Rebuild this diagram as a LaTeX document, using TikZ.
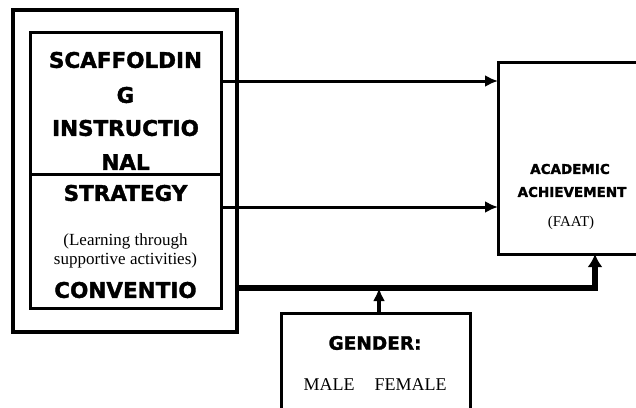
\documentclass[tikz,border=0pt]{standalone}
\usepackage{fontspec}
\setmainfont{Liberation Serif}
\newfontfamily\heavy{DejaVu Sans}[BoldFeatures={FakeBold=1.6}]
\usetikzlibrary{arrows.meta}

\tikzset{
    box/.style={draw,line width=3pt,inner sep=0pt,outer sep=0pt},
    capstxt/.style={font=\heavy\bfseries\fontsize{21.5}{21.5}\selectfont},
    smallcaps/.style={font=\heavy\bfseries\fontsize{13.5}{13.5}\selectfont},
    serif/.style={font=\fontsize{17}{17}\selectfont},
    arr/.style={line width=3pt,-{Latex[length=13pt,width=12pt]}},
    thickarr/.style={line width=5.5pt,line join=miter,-{Latex[length=13pt,width=15pt]}}
}

\begin{document}
\begin{tikzpicture}[x=1pt,y=-1pt]
        \clip (0,0) rectangle (636,407);
        % boxes
        \node[box,line width=4.5pt,minimum width=224pt,minimum height=322pt] (frame) at (125,171) {};
        \node[box,minimum width=191pt,minimum height=142pt] (strat) at (125.5,103) {};
        \node[box,minimum width=191pt,minimum height=134pt] (conv) at (125.5,241) {};
        \node[box,minimum width=142pt,minimum height=192pt] (ach) at (569,158) {};
        \node[box,minimum width=189pt,minimum height=117pt] (gender) at (375.5,371.5) {};
        % texts
        \foreach \w/\y in {SCAFFOLDIN/60,G/95,INSTRUCTIO/128,NAL/162,STRATEGY/193,CONVENTIO/290}
            \node[capstxt] (c\y) at (125.5,\y) {\w};
        \node[serif] (l1) at (125.5,241) {(Learning through};
        \node[serif] (l2) at (125.5,260) {supportive activities)};
        \node[smallcaps] (a1) at (570,169) {ACADEMIC};
        \node[smallcaps] (a2) at (572,192) {ACHIEVEMENT};
        \node[serif,font=\fontsize{15}{15}\selectfont] (a3) at (571,223) {(FAAT)};
        \node[capstxt,font=\heavy\bfseries\fontsize{18.5}{18.5}\selectfont] (g1) at (375,343) {GENDER:};
        \node[serif,font=\fontsize{18}{18}\selectfont] (g2) at (375,385) {MALE\hspace{20pt}FEMALE};
        % connectors
        \coordinate (bend) at (595,288);
        \draw[arr] (strat.east |- 0,81) -- (ach.west |- 0,81);
        \draw[arr] (conv.east |- 0,207) -- (ach.west |- 0,207);
        \draw[thickarr] (frame.east |- bend) -- (bend) -- (bend |- ach.south);
        \draw[arr,line width=4pt] ([xshift=3.5pt]gender.north) -- ([xshift=3.5pt]gender.north |- bend);
    \end{tikzpicture}
\end{document}
